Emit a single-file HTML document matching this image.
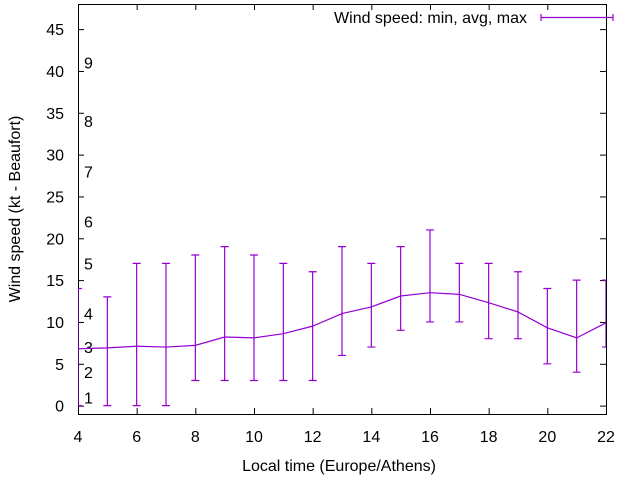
<!DOCTYPE html>
<html><head><meta charset="utf-8"><style>
body{margin:0;background:#fff}
svg{display:block;font-family:"Liberation Sans",sans-serif;font-size:16px}
</style></head><body>
<svg id="c" width="640" height="480"></svg>
<script>
const hours=[4,5,6,7,8,9,10,11,12,13,14,15,16,17,18,19,20,21,22];
const avgVals=[6.8,6.9,7.1,7.0,7.2,8.2,8.1,8.6,9.5,11,11.8,13.1,13.5,13.3,12.3,11.2,9.3,8.1,9.9];
const minVals=[0,0,0,0,3,3,3,3,3,6,7,9,10,10,8,8,5,4,7];
const maxVals=[14,13,17,17,18,19,18,17,16,19,17,19,21,17,17,16,14,15,15];
const xTicks=[4,6,8,10,12,14,16,18,20,22];
const yTicks=[0,5,10,15,20,25,30,35,40,45];
const bft=[[1,1],[2,4],[3,7],[4,11],[5,17],[6,22],[7,28],[8,34],[9,41]];
const L=78,R=606,T=4,B=414,xmin=4,xmax=22,ymin=-1,ymax=48;
const X=v=>L+(v-xmin)/(xmax-xmin)*(R-L);
const Y=v=>B-(v-ymin)/(ymax-ymin)*(B-T);
const svg=document.getElementById('c');const NS='http://www.w3.org/2000/svg';
function mk(t,a,p){const e=document.createElementNS(NS,t);for(const k in a)e.setAttribute(k,a[k]);(p||svg).appendChild(e);return e;}
const defs=mk('clipPath',{id:'cl'});mk('rect',{x:L,y:T,width:R-L,height:B-T},defs);
const ax=mk('g',{stroke:'#000','stroke-width':1});


xTicks.forEach(v=>{const x=X(v)+.5;mk('line',{x1:x,x2:x,y1:B,y2:B-6},ax);mk('line',{x1:x,x2:x,y1:T,y2:T+6},ax);
const t=mk('text',{x:X(v),y:B+28,'text-anchor':'middle',stroke:'none'});t.textContent=v;

});
yTicks.forEach(v=>{const y=Y(v)+.5;mk('line',{x1:L,x2:L+6,y1:y,y2:y},ax);mk('line',{x1:R,x2:R-6,y1:y,y2:y},ax);
const t=mk('text',{x:L-14,y:Y(v)+6,'text-anchor':'end',stroke:'none'});t.textContent=v;

});
mk('rect',{x:L+.5,y:T+.5,width:R-L,height:B-T,fill:'none',stroke:'#000'});
bft.forEach(([n,v])=>{const t=mk('text',{x:84,y:Y(v)+6});t.textContent=n;

});
const g=mk('g',{'clip-path':'url(#cl)',stroke:'#9400d3','stroke-width':1.2,fill:'none'});


mk('polyline',{points:hours.map((h,i)=>X(h)+','+Y(avgVals[i])).join(' ')},g);
hours.forEach((h,i)=>{const x=X(h);const e=mk('path',{d:`M${x},${Y(minVals[i])}V${Y(maxVals[i])}M${x-4},${Y(minVals[i])}h8M${x-4},${Y(maxVals[i])}h8`},g);

});
const lg=mk('g',{});
const lt=mk('text',{x:527,y:23,'text-anchor':'end'},lg);lt.textContent='Wind speed: min, avg, max';
mk('path',{d:'M541,17.5h72M541,14v7M613,14v7',stroke:'#9400d3','stroke-width':1.2},lg);
const xt=mk('text',{x:339,y:471,'text-anchor':'middle'});xt.textContent='Local time (Europe/Athens)';

const yt=mk('text',{x:20,y:209,'text-anchor':'middle',transform:'rotate(-90 20 209)'});yt.textContent='Wind speed (kt - Beaufort)';

</script>
</body></html>
